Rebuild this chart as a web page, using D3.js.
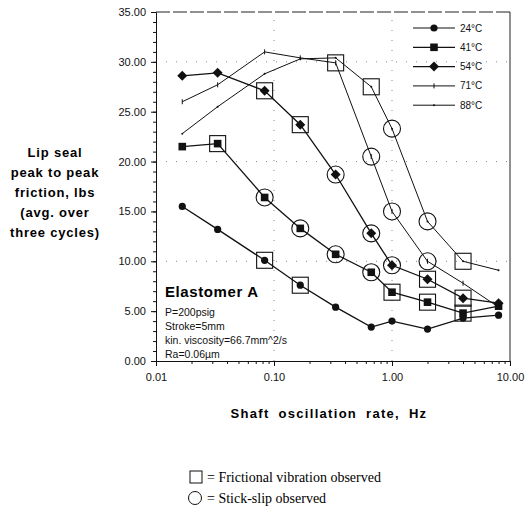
<!DOCTYPE html>
<html>
<head>
<meta charset="utf-8">
<script src="https://cdn.jsdelivr.net/npm/d3@7"></script>
<style>
 body { margin: 0; background: #fff; }
 svg { display: block; font-family: "Liberation Sans", Arial, sans-serif; }
</style>
</head>
<body>
<div id="chart"></div>
<script>
// shaft oscillation rates (Hz)
var freqs = [0.0167, 0.0333, 0.0833, 0.167, 0.333, 0.667, 1.0, 2.0, 4.0, 8.0];

// friction (lbs) per temperature
var f24 = [15.5, 13.2, 10.1, 7.6, 5.4, 3.4, 4.0, 3.2, 4.3, 4.6];
var f41 = [21.5, 21.8, 16.4, 13.3, 10.7, 8.9, 6.9, 5.9, 4.8, 5.5];
var f54 = [28.6, 28.9, 27.1, 23.7, 18.7, 12.8, 9.6, 8.2, 6.3, 5.8];
var f71 = [26.0, 27.7, 31.0, 30.4, 29.9, 20.5, 15.0, 10.0, 7.8, 5.4];
var f88 = [22.8, 25.5, 28.8, 30.3, 30.4, 27.5, 23.3, 14.0, 10.0, 9.1];

var seriesNames = ["24°C", "41°C", "54°C", "71°C", "88°C"];

// observations: [series index, point index]
var vibrationObs = [[0,2],[0,3],[1,1],[1,6],[1,7],[1,8],[2,2],[2,3],[2,7],[2,8],[3,4],[4,5],[4,8]];
var stickSlipObs = [[1,2],[1,3],[1,4],[1,5],[2,4],[2,5],[2,6],[3,5],[3,6],[3,7],[4,6],[4,7]];

var yTicks = [0, 5, 10, 15, 20, 25, 30, 35];
var xTicks = [0.01, 0.1, 1, 10];

var w = 529, h = 508;
var svg = d3.select("#chart").append("svg").attr("width", w).attr("height", h);
svg.append("rect").attr("width", w).attr("height", h).attr("fill", "#fff");

var x = d3.scaleLog().domain([0.01, 10]).range([156, 510]);
var y = d3.scaleLinear().domain([0, 35]).range([361, 12]);

// faint dotted grid
svg.selectAll(".hg").data([10, 20, 30]).enter().append("line")
 .attr("x1", x(0.01)).attr("x2", x(10))
 .attr("y1", function(d){ return y(d); }).attr("y2", function(d){ return y(d); })
 .attr("stroke", "#888").attr("stroke-dasharray", "1,9");
svg.selectAll(".vg").data([0.1, 1]).enter().append("line")
 .attr("y1", y(0)).attr("y2", y(35))
 .attr("x1", function(d){ return x(d); }).attr("x2", function(d){ return x(d); })
 .attr("stroke", "#888").attr("stroke-dasharray", "1,9");

// frame top and right
svg.append("line").attr("x1", x(0.01)).attr("x2", x(10)).attr("y1", y(35)).attr("y2", y(35))
 .attr("stroke", "#222").attr("stroke-dasharray", "14,3");
svg.append("line").attr("x1", x(10)).attr("x2", x(10)).attr("y1", y(35)).attr("y2", y(0))
 .attr("stroke", "#222");

// y axis
svg.append("g").attr("transform", "translate(" + x(0.01) + ",0)")
 .call(d3.axisLeft(y).tickValues(yTicks).tickFormat(d3.format(".2f")).tickSize(5).tickPadding(5));
svg.append("g").attr("transform", "translate(" + x(0.01) + ",0)")
 .call(d3.axisLeft(y).tickValues(d3.range(0, 36, 1)).tickFormat("").tickSize(3))
 .select(".domain").remove();

// x axis
svg.append("g").attr("transform", "translate(0," + y(0) + ")")
 .call(d3.axisBottom(x).tickValues(xTicks).tickFormat(d3.format(".2f")).tickSize(5).tickPadding(7));
svg.append("g").attr("transform", "translate(0," + y(0) + ")")
 .call(d3.axisBottom(x).tickValues(x.ticks()).tickFormat("").tickSize(3))
 .select(".domain").remove();

svg.selectAll(".tick text").attr("font-size", 11).attr("fill", "#111")
 .attr("font-family", "Liberation Sans, Arial, sans-serif");
svg.selectAll(".domain, .tick line").attr("stroke", "#111");

// series lines
var all = [f24, f41, f54, f71, f88];
var widths = [1.3, 1.3, 1.3, 1, 1];
var line = d3.line().x(function(d, i){ return x(freqs[i]); }).y(function(d){ return y(d); });
all.forEach(function(s, k) {
 svg.append("path").datum(s).attr("d", line)
  .attr("fill", "none").attr("stroke", "#111").attr("stroke-width", widths[k]);
});

// point markers per series
function drawMarker(g, k) {
 if (k === 0) g.append("circle").attr("r", 3.6).attr("fill", "#111");
 else if (k === 1) g.append("rect").attr("x", -3.8).attr("y", -3.8).attr("width", 7.6).attr("height", 7.6).attr("fill", "#111");
 else if (k === 2) g.append("path").attr("d", "M0,-5L5,0L0,5L-5,0Z").attr("fill", "#111");
 else if (k === 3) g.append("line").attr("y1", -2.5).attr("y2", 2.5).attr("stroke", "#111").attr("stroke-width", 1);
 else g.append("circle").attr("r", 1).attr("fill", "#111");
}
all.forEach(function(s, k) {
 svg.selectAll(".m" + k).data(s).enter().append("g")
  .attr("transform", function(d, i){ return "translate(" + x(freqs[i]) + "," + y(d) + ")"; })
  .each(function(){ drawMarker(d3.select(this), k); });
});

// observation squares and circles
svg.selectAll(".vib").data(vibrationObs).enter().append("rect")
 .attr("x", function(d){ return x(freqs[d[1]]) - 8; })
 .attr("y", function(d){ return y(all[d[0]][d[1]]) - 8; })
 .attr("width", 16).attr("height", 16)
 .attr("fill", "none").attr("stroke", "#111").attr("stroke-width", 1.1);
svg.selectAll(".ss").data(stickSlipObs).enter().append("circle")
 .attr("cx", function(d){ return x(freqs[d[1]]); })
 .attr("cy", function(d){ return y(all[d[0]][d[1]]); })
 .attr("r", 8.5)
 .attr("fill", "none").attr("stroke", "#111").attr("stroke-width", 1.1);

// top-right legend
var leg = svg.append("g");
seriesNames.forEach(function(name, k) {
 var ly = 28 + k * 19.3;
 leg.append("line").attr("x1", 413).attr("x2", 455).attr("y1", ly).attr("y2", ly)
  .attr("stroke", "#111").attr("stroke-width", k < 3 ? 1.2 : 1);
 drawMarker(leg.append("g").attr("transform", "translate(434," + ly + ")"), k);
 leg.append("text").attr("x", 460).attr("y", ly + 3.5).attr("font-size", 10).attr("fill", "#111").text(name);
});

// annotation
svg.append("text").attr("x", 165).attr("y", 297).attr("font-size", 15).attr("font-weight", "bold")
 .attr("letter-spacing", 0.6).text("Elastomer A");
var notes = ["P=200psig", "Stroke=5mm", "kin. viscosity=66.7mm^2/s", "Ra=0.06µm"];
svg.selectAll(".note").data(notes).enter().append("text")
 .attr("x", 165).attr("y", function(d, i){ return 315.5 + i * 14.3; })
 .attr("font-size", 10.5).attr("fill", "#111").text(function(d){ return d; });

// y title
var yTitle = ["Lip seal", "peak to peak", "friction, lbs", "(avg. over", "three cycles)"];
svg.selectAll(".yt").data(yTitle).enter().append("text")
 .attr("x", 55).attr("y", function(d, i){ return 157 + i * 20; })
 .attr("text-anchor", "middle").attr("font-size", 13).attr("font-weight", "bold")
 .attr("letter-spacing", 0.8).text(function(d){ return d; });

// x title
svg.append("text").attr("x", 329).attr("y", 418).attr("text-anchor", "middle")
 .attr("font-size", 13).attr("font-weight", "bold").attr("letter-spacing", 1.3)
 .attr("word-spacing", 4).text("Shaft oscillation rate, Hz");

// bottom key
svg.append("rect").attr("x", 190).attr("y", 471).attr("width", 12).attr("height", 12)
 .attr("fill", "none").attr("stroke", "#111");
svg.append("circle").attr("cx", 195).attr("cy", 498).attr("r", 6.5)
 .attr("fill", "none").attr("stroke", "#111");
svg.append("text").attr("x", 207).attr("y", 482).attr("font-size", 14)
 .attr("font-family", "Liberation Serif, Times New Roman, serif").text("= Frictional vibration observed");
svg.append("text").attr("x", 207).attr("y", 503).attr("font-size", 14)
 .attr("font-family", "Liberation Serif, Times New Roman, serif").text("= Stick-slip observed");
</script>
</body>
</html>
